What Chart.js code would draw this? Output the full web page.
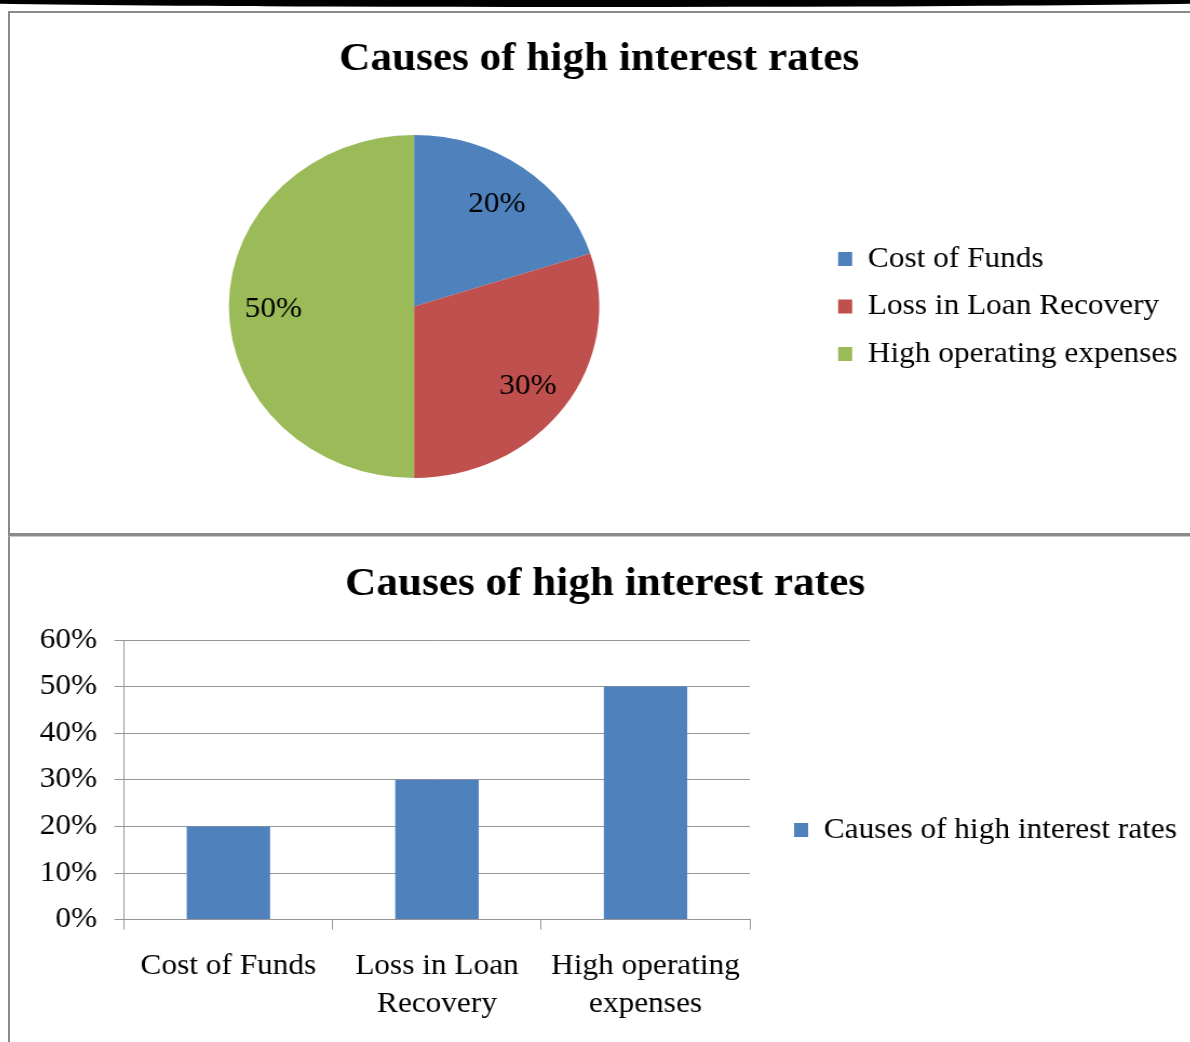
<!DOCTYPE html>
<html>
<head>
<meta charset="utf-8">
<script src="https://cdn.jsdelivr.net/npm/chart.js@4.4.1/dist/chart.umd.min.js"></script>
<style>
  html, body { margin: 0; padding: 0; background: #fff; }
  body { width: 1190px; height: 1042px; position: relative; overflow: hidden; }
  .band { position: absolute; left: -105px; top: -7px; width: 1400px; height: 14px; border-radius: 50%; background: #000; }
  .panel-top { position: absolute; left: 8px; top: 11px; width: 1200px; height: 520px;
    border-top: 2px solid #8a8a8a; border-left: 2px solid #8a8a8a; border-bottom: 3px solid #8a8a8a; }
  .panel-bottom { position: absolute; left: 8px; top: 536px; width: 1200px; height: 520px;
    border-top: 1px solid #c8c8c8; border-left: 2px solid #8a8a8a; }
  .wrap { position: absolute; transform: scaleX(1.08); transform-origin: 0 0; }
  canvas { display: block; }
</style>
</head>
<body>
<div class="band"></div>
<div class="panel-top"></div>
<div class="panel-bottom"></div>
<div class="wrap" style="left:10px; top:14px;"><canvas id="pie" width="1093" height="518"></canvas></div>
<div class="wrap" style="left:10px; top:540px;"><canvas id="bar" width="1093" height="502"></canvas></div>
<script>
// Data
const chartTitle = "Causes of high interest rates";
const categories = ["Cost of Funds", "Loss in Loan Recovery", "High operating expenses"];
const categoryLines = [["Cost of Funds"], ["Loss in Loan", "Recovery"], ["High operating", "expenses"]];
const shares = [20, 30, 50];
const sliceColors = ["#4F81BD", "#C0504D", "#9BBB59"];
const barColor = "#4F81BD";

const serif = '"Liberation Serif", "Times New Roman", serif';
const gridGray = "#969696";

// Percent labels inside the pie slices
const sliceLabels = {
  id: "sliceLabels",
  afterDatasetsDraw(chart) {
    const ctx = chart.ctx;
    const meta = chart.getDatasetMeta(0);
    ctx.save();
    ctx.font = "29px " + serif;
    ctx.fillStyle = "#000";
    ctx.textAlign = "center";
    ctx.textBaseline = "middle";
    meta.data.forEach((arc, i) => {
      const p = arc.getProps(["x", "y", "startAngle", "endAngle", "outerRadius"], true);
      const mid = (p.startAngle + p.endAngle) / 2;
      const r = p.outerRadius * 0.76;
      ctx.fillText(shares[i] + "%", p.x + Math.cos(mid) * r, p.y + Math.sin(mid) * r + 3);
    });
    ctx.restore();
  },
};

new Chart(document.getElementById("pie"), {
  type: "pie",
  data: {
    labels: categories,
    datasets: [{ data: shares, backgroundColor: sliceColors, borderWidth: 0 }],
  },
  options: {
    responsive: false,
    animation: false,
    layout: { padding: { left: 0, right: 2, top: 0, bottom: 54 } },
    plugins: {
      title: {
        display: true,
        text: chartTitle,
        color: "#000",
        font: { family: serif, size: 40, weight: "bold", lineHeight: 1.2 },
        padding: { top: 22, bottom: 51 },
      },
      legend: {
        position: "right",
        fullSize: false,
        maxWidth: 600,
        labels: {
          color: "#000",
          font: { family: serif, size: 29 },
          boxWidth: 13,
          boxHeight: 14,
          padding: 18.5,
        },
      },
      tooltip: { enabled: false },
    },
  },
  plugins: [sliceLabels],
});

new Chart(document.getElementById("bar"), {
  type: "bar",
  data: {
    labels: categoryLines,
    datasets: [{
      label: chartTitle,
      data: shares,
      backgroundColor: barColor,
      borderWidth: 0,
      barPercentage: 0.4,
      categoryPercentage: 1,
    }],
  },
  options: {
    responsive: false,
    animation: false,
    layout: { padding: { left: 11.5, right: 2.5, top: 79, bottom: 1 } },
    scales: {
      x: {
        grid: { drawOnChartArea: false, drawTicks: true, tickLength: 10, color: gridGray, offset: true },
        border: { color: gridGray },
        ticks: { color: "#000", font: { family: serif, size: 29, lineHeight: 1.3 }, padding: 18, maxRotation: 0, autoSkip: false },
      },
      y: {
        min: 0,
        max: 60,
        grid: { color: gridGray, tickLength: 9 },
        border: { color: gridGray },
        ticks: {
          stepSize: 10,
          color: "#000",
          font: { family: serif, size: 29 },
          padding: 16,
          callback: (v) => v + "%",
        },
      },
    },
    plugins: {
      title: {
        display: true,
        text: chartTitle,
        color: "#000",
        font: { family: serif, size: 40, weight: "bold", lineHeight: 1.2 },
        // pulled up into the layout padding so the legend can sit lower
        padding: { top: -58, bottom: 31 },
      },
      legend: {
        position: "right",
        maxWidth: 600,
        labels: {
          color: "#000",
          font: { family: serif, size: 29 },
          boxWidth: 13,
          boxHeight: 14,
          padding: 41,
        },
      },
      tooltip: { enabled: false },
    },
  },
});
</script>
</body>
</html>
